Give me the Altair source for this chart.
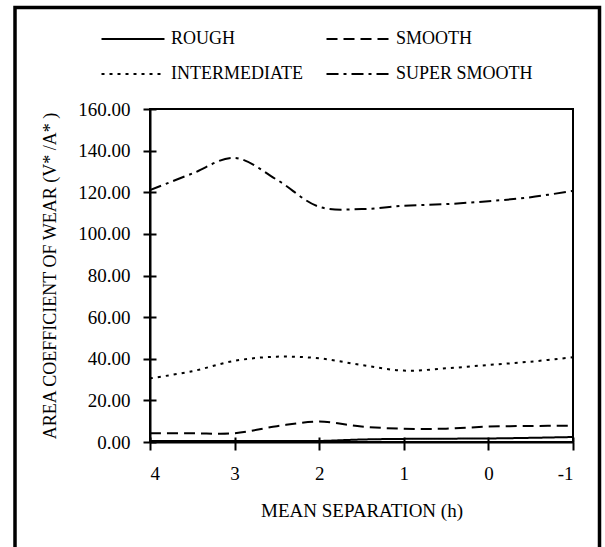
import altair as alt
import pandas as pd

# ---- data ----
separation = [4, 3.5, 3, 2.5, 2, 1.5, 1, 0.5, 0, -0.5, -1]
rough = [0.5, 0.5, 0.5, 0.5, 0.5, 1.2, 1.5, 1.6, 1.7, 2.0, 2.4]
smooth = [4.2, 4.2, 4.2, 7.6, 9.8, 7.4, 6.4, 6.4, 7.4, 7.7, 7.8]
intermediate = [30.6, 34.0, 39.0, 41.0, 40.2, 37.0, 34.3, 35.4, 37.0, 38.6, 40.7]
super_smooth = [121.0, 129.0, 136.5, 126.0, 113.0, 111.9, 113.5, 114.3, 115.7, 117.6, 120.7]

series_names = ["ROUGH", "SMOOTH", "INTERMEDIATE", "SUPER SMOOTH"]
series_values = [rough, smooth, intermediate, super_smooth]
dashes = {"ROUGH": [1, 0], "SMOOTH": [11, 6], "INTERMEDIATE": [3, 5],
          "SUPER SMOOTH": [12, 5, 3, 5]}
# legend is filled column by column: col 1 = ROUGH, INTERMEDIATE; col 2 = SMOOTH, SUPER SMOOTH
legend_order = ["ROUGH", "INTERMEDIATE", "SMOOTH", "SUPER SMOOTH"]

y_ticks = [0, 20, 40, 60, 80, 100, 120, 140, 160]
y_tick_labels = ["0.00", "20.00", "40.00", "60.00", "80.00", "100.00", "120.00", "140.00", "160.00"]
x_ticks = [4, 3, 2, 1, 0, -1]

rows = []
for name, vals in zip(series_names, series_values):
    for s, v in zip(separation, vals):
        rows.append({"series": name, "h": s, "wear": v})
df = pd.DataFrame(rows)

FONT = "Liberation Serif"

x_scale = alt.Scale(domain=[4, -1], nice=False, zero=False)
y_scale = alt.Scale(domain=[0, 160], nice=False)

lines = alt.Chart(df).mark_line(
    color="black", strokeWidth=2, interpolate="catmull-rom", clip=True
).encode(
    x=alt.X("h:Q", scale=x_scale,
            axis=alt.Axis(orient="bottom", values=x_ticks, labelExpr="'' + datum.value",
                          tickSize=8, labelPadding=14,
                          labelFont=FONT, labelFontSize=19, labelColor="black",
                          title="MEAN SEPARATION (h)", titleX=211.5, titleY=68,
                          titleFont=FONT, titleFontSize=19,
                          titleBaseline="middle", titleAlign="center")),
    y=alt.Y("wear:Q", scale=y_scale,
            axis=alt.Axis(orient="left", values=y_ticks, format=".2f", tickSize=7,
                          labelPadding=13,
                          labelFont=FONT, labelFontSize=19, labelColor="black",
                          title="AREA COEFFICIENT OF WEAR (V* /A* )",
                          titleFont=FONT, titleFontSize=18,
                          titleX=-100, titleY=166.5, titleAngle=-90,
                          titleAlign="center", titleBaseline="middle")),
    strokeDash=alt.StrokeDash(
        "series:N",
        scale=alt.Scale(domain=legend_order, range=[dashes[n] for n in legend_order]),
        sort=legend_order,
        legend=alt.Legend(
            title=None, orient="none", legendX=-34, legendY=-87, columns=2,
            symbolType="M-2,0L2,0", symbolSize=992, symbolStrokeWidth=2,
            symbolStrokeColor="black", labelFont=FONT, labelFontSize=18,
            labelColor="black", labelOffset=21, labelLimit=300,
            columnPadding=19, rowPadding=9,
        ),
    ),
    detail="series:N",
)

inner_ticks = alt.Chart(df).mark_line(opacity=0).encode(
    x=alt.X("h:Q", scale=x_scale,
            axis=alt.Axis(orient="bottom", values=x_ticks, offset=-5, tickSize=5,
                          labels=False, domain=False, title=None)),
    y=alt.Y("wear:Q", scale=y_scale,
            axis=alt.Axis(orient="left", values=y_ticks, offset=-6, tickSize=6,
                          labels=False, domain=False, title=None)),
    detail="series:N",
)

frame = alt.Chart(alt.Data(values=[{"f": 1}])).mark_rect(
    fill=None, stroke="black", strokeWidth=3.5
).encode(
    x=alt.value(-135), x2=alt.value(449.5),
    y=alt.value(-101.5), y2=alt.value(460),
)

chart = alt.layer(lines, inner_ticks, frame).resolve_axis(
    x="independent", y="independent"
).properties(
    width=423, height=333,
    autosize=alt.AutoSizeParams(type="none"),
    padding={"left": 150, "top": 109, "right": 32, "bottom": 105},
    background="white",
).configure_view(
    stroke="black", strokeWidth=2
).configure_axis(
    domainColor="black", domainWidth=2, tickColor="black", tickWidth=2,
    labelFont=FONT, labelFontSize=19, labelColor="black",
    titleFont=FONT, titleFontWeight="normal", titleColor="black",
    grid=False,
)

chart.save("out.html", embed_options={"renderer": "svg", "actions": False})
